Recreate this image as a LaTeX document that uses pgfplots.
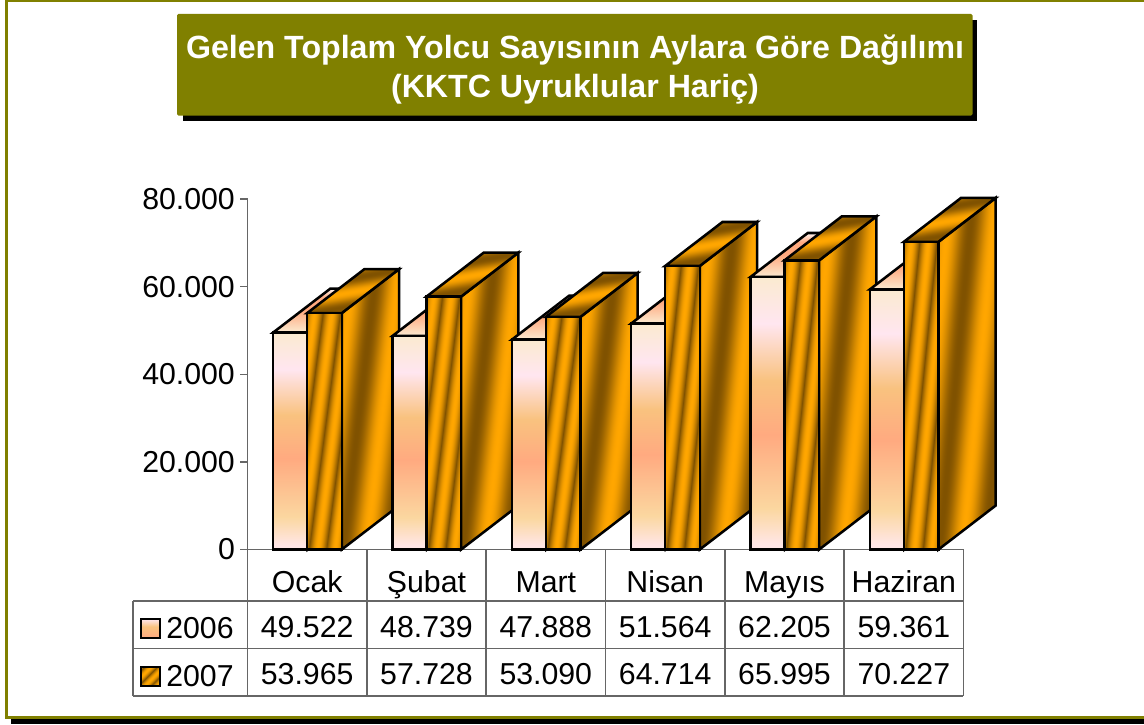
\documentclass[border=0pt]{standalone}
\usepackage{fontspec}
\setmainfont{Liberation Sans}
\usepackage{pgfplots}
\pgfplotsset{compat=1.18}
\definecolor{olivebar}{HTML}{808000}
\definecolor{gridgrey}{HTML}{666666}
\definecolor{fromhex1}{HTML}{FFE6E6}
\definecolor{fromhex2}{HTML}{FBD7A0}
\definecolor{fromhex3}{HTML}{FFAA80}
\definecolor{fromhex4}{HTML}{F9C27F}
\definecolor{fromhex5}{HTML}{FFE6F0}
\definecolor{fromhex6}{HTML}{FBEAD0}
\definecolor{topwhite}{HTML}{FFF8F4}
\pgfdeclarefunctionalshading{stripefront}{\pgfpointorigin}{\pgfpoint{100bp}{100bp}}{}{
  0.9 mul sub 14.4 mul 198 add sin 1 add 2 div sqrt dup 0.5 mul 0.5 add exch 0.33 mul 0.32 add 0 }
\pgfdeclarefunctionalshading{stripeside}{\pgfpointorigin}{\pgfpoint{100bp}{100bp}}{}{
  0.58 mul sub 8.88 mul 170 add sin 1 add 2 div dup 0.5 mul 0.5 add exch 0.33 mul 0.32 add 0 }
\pgfdeclarefunctionalshading{stripetop}{\pgfpointorigin}{\pgfpoint{100bp}{100bp}}{}{
  exch 0.35 mul sub 11 mul 100 add sin 1 add 2 div dup 0.5 mul 0.5 add exch 0.33 mul 0.32 add 0 }
\pgfdeclarefunctionalshading{stripekey}{\pgfpointorigin}{\pgfpoint{100bp}{100bp}}{}{
  sub 10.8 mul sin 1 add 2 div sqrt dup 0.5 mul 0.5 add exch 0.33 mul 0.32 add 0 }
\pgfdeclareverticalshading{peachfront}{100bp}{
  color(0bp)=(fromhex1); color(26bp)=(fromhex1); color(32.5bp)=(fromhex2); color(46bp)=(fromhex3);
  color(56bp)=(fromhex4); color(66.5bp)=(fromhex5); color(75bp)=(fromhex6); color(100bp)=(fromhex6)}
\pgfdeclareverticalshading{peachtop}{100bp}{
  color(0bp)=(fromhex6); color(25bp)=(fromhex6); color(50bp)=(fromhex3); color(65bp)=(fromhex3); color(75bp)=(topwhite); color(100bp)=(topwhite)}
\pgfdeclareverticalshading{peachkey}{100bp}{
  color(0bp)=(fromhex3); color(25bp)=(fromhex3); color(55bp)=(fromhex4); color(75bp)=(fromhex5); color(100bp)=(fromhex5)}
% one bar: left edge, value, shadings of side, top and front
\newcommand\OneBar[5]{%
  \pgfmathsetmacro\xa{#1}%
  \pgfmathsetmacro\xb{#1+0.29}%
  \pgfmathsetmacro\xc{#1+0.77}%
  \pgfmathsetmacro\xd{#1+0.48}%
  \edef\yt{\the\numexpr#2+10040\relax}%
  \edef\tmp{%
    \noexpand\addplot[bf,shading=#3] coordinates {(\xb,0)(\xc,10040)(\xc,\yt)(\xb,#2)} -- cycle;
    \noexpand\addplot[bf,shading=#4] coordinates {(\xa,#2)(\xb,#2)(\xc,\yt)(\xd,\yt)} -- cycle;
    \noexpand\addplot[bf,shading=#5] coordinates {(\xa,0)(\xb,0)(\xb,#2)(\xa,#2)} -- cycle;
  }\tmp}
\newcommand\Month[3]{%
  \pgfmathsetmacro\xx{#1-0.285}%
  \OneBar{\xx}{#2}{peachfront}{peachtop}{peachfront}%
  \OneBar{#1}{#3}{stripeside}{stripetop}{stripefront}}
\tikzset{bf/.style={draw=black,line width=1.9pt,line join=miter,shade}}
\begin{document}
\begin{tikzpicture}
\path[use as bounding box] (0,0) rectangle (858pt,-543pt);
\begin{scope}[x=0.75pt,y=-0.75pt]
  \fill[olivebar] (5,0) rectangle (1144,2.5);
  \fill[olivebar] (5,0) rectangle (8,719);
  \fill[black] (11,719) rectangle (1144,724);
  \fill[olivebar] (5,716) rectangle (1144,719);
  \fill[black] (183,20) rectangle (977,121);
  \fill[olivebar,rounded corners=1pt] (177,14) rectangle (972.5,115.5);
  \node[white,font=\fontsize{24.1pt}{30pt}\bfseries,anchor=base] at (575,58.5) {Gelen Toplam Yolcu Sayısının Aylara Göre Dağılımı};
  \node[white,font=\fontsize{24.1pt}{30pt}\bfseries,anchor=base] at (575,97) {(KKTC Uyruklular Hariç)};
\end{scope}
\begin{axis}[
  at={(185.625pt,-412.125pt)},anchor=south west,
  scale only axis,width=537pt,height=262.875pt,
  clip=false,
  xmin=-0.5,xmax=5.5,ymin=0,ymax=80000,
  axis x line=bottom,axis y line=left,
  axis line style={gridgrey,line width=1.1pt,-},
  x axis line style={-},y axis line style={-},
  xtick={0,1,2,3,4,5},
  xticklabels={Ocak,Şubat,Mart,Nisan,Mayıs,Haziran},
  xtick style={draw=none},
  major tick length=5.6pt,
  ytick={0,20000,40000,60000,80000},
  ytick style={gridgrey,line width=1.1pt},
  tick align=outside,
  scaled y ticks=false,
  /pgf/number format/1000 sep={.},
  /pgf/number format/assume math mode=true,
  yticklabel style={font=\fontsize{22.7pt}{26pt}\selectfont,anchor=east,inner xsep=0pt,xshift=-3.7pt},
  xticklabel style={font=\fontsize{22.7pt}{26pt}\selectfont,anchor=base,yshift=-26.6pt},
]
\Month{0}{49522}{53965}
\Month{1}{48739}{57728}
\Month{2}{47888}{53090}
\Month{3}{51564}{64714}
\Month{4}{62205}{65995}
\Month{5}{59361}{70227}
\end{axis}
\begin{scope}[x=0.75pt,y=-0.75pt,line width=1.1pt]
  \draw[gridgrey] (133,601) -- (963,601) (133,648.5) -- (963,648.5) (133,696) -- (963,696);
  \draw[gridgrey] (133,601) -- (133,696);
  \foreach \x in {247.5,366.8,486.2,605.5,724.8,844.2,963.5}
    \draw[gridgrey] (\x,549.5) -- (\x,696);
  \draw[black,line width=1.5pt,shade,shading=peachkey] (141,619) rectangle (160,638);
  \draw[black,line width=1.5pt,shade,shading=stripekey] (141,667) rectangle (160,686);
  \tikzset{tx/.style={font=\fontsize{22.7pt}{26pt}\selectfont,anchor=base,inner sep=0pt}}
  \node[tx] at (200,638) {2006};
  \node[tx] at (200,686.5) {2007};
  \foreach \x/\a/\b in {307.2/49.522/53.965,426.5/48.739/57.728,545.8/47.888/53.090,665.2/51.564/64.714,784.5/62.205/65.995,903.8/59.361/70.227}{
    \node[tx] at (\x,637) {\a};
    \node[tx] at (\x,684.5) {\b};
  }
\end{scope}
\end{tikzpicture}
\end{document}
